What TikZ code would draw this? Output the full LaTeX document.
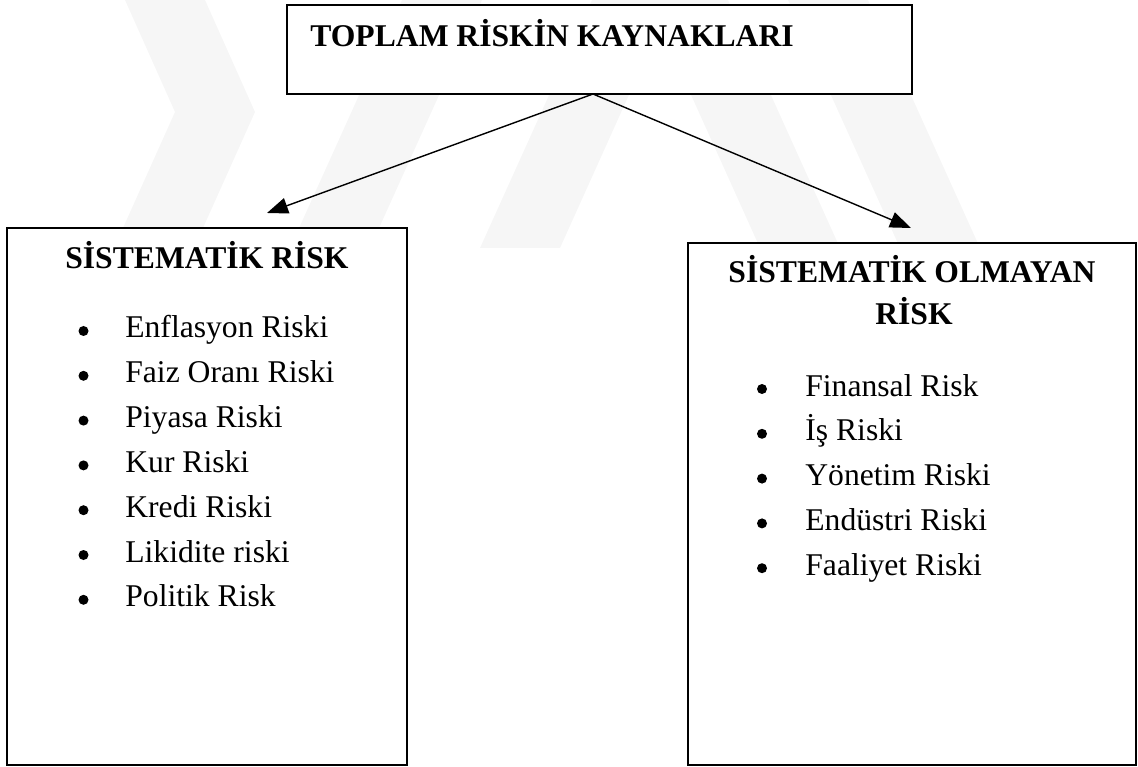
\documentclass[tikz,border=0pt]{standalone}
\usepackage{fontspec}
\setmainfont{Liberation Serif}
\usetikzlibrary{arrows.meta}

\newcommand{\yazi}{\fontsize{18pt}{21pt}\selectfont}
\tikzstyle{kutu} = [draw, line width=1.1pt, fill=white, inner sep=0pt]
\tikzstyle{ok} = [draw, line width=0.8pt, -{Triangle[length=4.2mm,width=3.2mm]}]
\tikzstyle{desen} = [fill=gray!7]
\tikzstyle{madde} = [anchor=base west, inner sep=0pt, font=\yazi]
\tikzstyle{baslik} = [inner sep=0pt, font=\yazi\bfseries]

\begin{document}
\begin{tikzpicture}[font=\yazi]
		\useasboundingbox (0,0) rectangle (22.76,-15.34);
		% Arka plandaki soluk desen
		\fill[desen] (2.5,0) -- (4.1,0) -- (5.1,-2.24) -- (3.88,-4.96) -- (2.28,-4.96) -- (3.5,-2.24) -- cycle;
		\fill[desen] (5.8,-4.96) -- (7.4,-4.96) -- (9.64,0) -- (8.04,0) -- cycle;
		\fill[desen] (9.6,-4.96) -- (11.2,-4.96) -- (13.2,-0.52) -- (15.2,-4.96) -- (16.8,-4.96) -- (14.56,0) -- (11.84,0) -- cycle;
		\fill[desen] (18,-4.96) -- (19.6,-4.96) -- (17.36,0) -- (15.76,0) -- cycle;
		
		\node[kutu, minimum width=12.5cm, minimum height=1.78cm] (kaynak) at (11.99,-0.99) {}; % Üst kutu
		\node[baslik, anchor=base west] (tbaslik) at (6.2,-0.93) {TOPLAM RİSKİN KAYNAKLARI};
		\node[kutu, minimum width=8cm, minimum height=10.74cm] (sistematik) at (4.14,-9.93) {};
		\node[kutu, minimum width=8.96cm, minimum height=10.44cm] (olmayan) at (18.24,-10.08) {};
		\node[baslik, anchor=base] (sbaslik) at (4.14,-5.38) {SİSTEMATİK RİSK};
		\node[baslik, anchor=base] (obaslik) at (18.24,-5.66) {SİSTEMATİK OLMAYAN};
		\node[baslik, anchor=base] (obaslik2) at (18.28,-6.5) {RİSK};
		
		% Oklar
		\coordinate (cikis) at (11.86,-1.88);
		\coordinate (soluc) at (5.34,-4.26);
		\coordinate (saguc) at (18.22,-4.56);
		\draw[ok] (cikis) -- (soluc);
		\draw[ok] (cikis) -- (saguc);
		
		% Maddeler
		\foreach \metin [count=\i] in {Enflasyon Riski, Faiz Oranı Riski, Piyasa Riski, Kur Riski, Kredi Riski, Likidite riski, Politik Risk} {
			\fill (1.67,{-6.76-0.896*(\i-1)+0.14}) circle (0.1);
			\node[madde] (sol\i) at (2.5,{-6.76-0.896*(\i-1)}) {\metin};
		}
		\foreach \metin [count=\i] in {Finansal Risk, İş Riski, Yönetim Riski, Endüstri Riski, Faaliyet Riski} {
			\fill (15.24,{-7.92-0.896*(\i-1)+0.14}) circle (0.1);
			\node[madde] (sag\i) at (16.1,{-7.92-0.896*(\i-1)}) {\metin};
		}
	\end{tikzpicture}
\end{document}
